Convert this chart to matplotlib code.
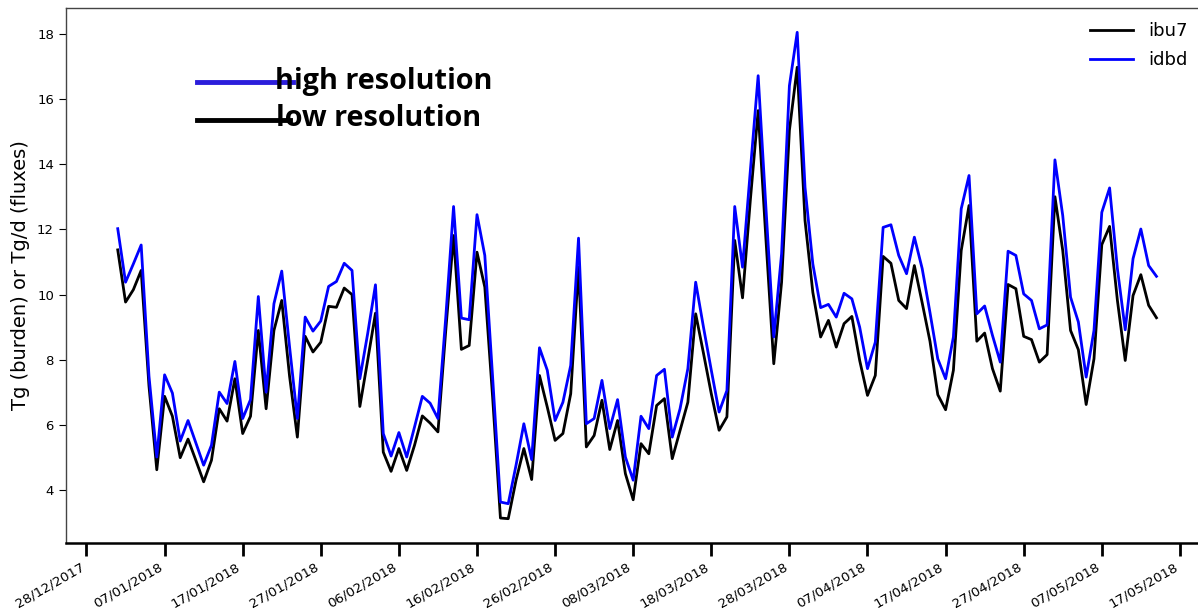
import matplotlib
matplotlib.use("Agg")
import matplotlib.pyplot as plt
import matplotlib.dates as mdates
from matplotlib.lines import Line2D
import pandas as pd

start_date = "2018-01-01"
n_days = 134

ibu7 = [11.37, 9.77, 10.15, 10.74, 7.2, 4.63, 6.88, 6.27, 5.00, 5.57,
        4.92, 4.26, 4.92, 6.50, 6.12, 7.42, 5.74, 6.27, 8.90, 6.50,
        8.90, 9.82, 7.5, 5.63, 8.72, 8.24, 8.54, 9.64, 9.61, 10.20,
        10.00, 6.57, 7.98, 9.43, 5.17, 4.58, 5.28, 4.61, 5.38, 6.28,
        6.06, 5.79, 8.9, 11.81, 8.32, 8.44, 11.30, 10.23, 6.86, 3.15,
        3.13, 4.31, 5.28, 4.33, 7.52, 6.55, 5.53, 5.74, 6.96, 10.84,
        5.33, 5.68, 6.76, 5.25, 6.14, 4.51, 3.71, 5.43, 5.12, 6.60,
        6.81, 4.97, 5.84, 6.70, 9.41, 8.2, 6.96, 5.84, 6.25, 11.66,
        9.90, 12.9, 15.64, 11.68, 7.88, 10.38, 15.03, 16.97, 12.27, 10.07,
        8.70, 9.21, 8.39, 9.11, 9.33, 7.98, 6.91, 7.52, 11.17, 10.96,
        9.82, 9.57, 10.89, 9.75, 8.57, 6.93, 6.47, 7.68, 11.35, 12.73,
        8.57, 8.82, 7.73, 7.04, 10.31, 10.18, 8.72, 8.62, 7.93, 8.16,
        13.00, 11.35, 8.90, 8.31, 6.63, 8.03, 11.53, 12.09, 9.82, 7.98,
        9.97, 10.61, 9.67, 9.29]

idbd = [12.02, 10.38, 10.94, 11.52, 7.5, 5.02, 7.54, 6.98, 5.51, 6.14,
        5.45, 4.77, 5.38, 7.01, 6.66, 7.95, 6.20, 6.78, 9.94, 7.01,
        9.72, 10.72, 8.4, 6.20, 9.31, 8.88, 9.19, 10.25, 10.40, 10.96,
        10.74, 7.42, 8.8, 10.30, 5.74, 5.05, 5.77, 5.02, 5.94, 6.88,
        6.67, 6.20, 9.3, 12.70, 9.28, 9.23, 12.45, 11.20, 7.47, 3.64,
        3.59, 4.77, 6.04, 4.94, 8.37, 7.68, 6.14, 6.70, 7.83, 11.73,
        6.04, 6.20, 7.37, 5.89, 6.78, 5.02, 4.31, 6.27, 5.89, 7.52,
        7.71, 5.63, 6.50, 7.73, 10.38, 9.0, 7.68, 6.40, 7.06, 12.70,
        10.84, 13.8, 16.71, 12.64, 8.70, 11.25, 16.40, 18.04, 13.29, 10.94,
        9.60, 9.70, 9.31, 10.04, 9.87, 9.00, 7.73, 8.54, 12.06, 12.14,
        11.20, 10.64, 11.76, 10.8, 9.45, 8.03, 7.42, 8.70, 12.63, 13.65,
        9.41, 9.65, 8.75, 7.93, 11.33, 11.20, 10.02, 9.82, 8.95, 9.07,
        14.13, 12.42, 9.92, 9.16, 7.47, 8.90, 12.52, 13.27, 10.79, 8.92,
        11.10, 12.01, 10.89, 10.56]

tick_start = "2017-12-28"
n_ticks = 15
ylabel = "Tg (burden) or Tg/d (fluxes)"
note_high = "high resolution"
note_low = "low resolution"

dates = pd.date_range(start_date, periods=n_days, freq="D")
ticks = pd.date_range(tick_start, periods=n_ticks, freq="10D")

W, H = 1198, 610
fig = plt.figure(figsize=(W / 100, H / 100), dpi=100)
ax = fig.add_axes([65.8 / W, (H - 543) / H, (1208.4 - 65.8) / W, (543 - 8) / H])

ax.plot(dates, ibu7, color="black", lw=2.0, label="ibu7")
ax.plot(dates, idbd, color="#0000ff", lw=2.0, label="idbd")

ax.set_xticks(ticks)
ax.xaxis.set_major_formatter(mdates.DateFormatter("%d/%m/%Y"))
for lab in ax.get_xticklabels():
    lab.set_rotation(30)
    lab.set_ha("right")
    lab.set_fontsize(9.7)
ax.tick_params(axis="x", length=9, width=2, color="black")
ax.tick_params(axis="y", labelsize=9.5, length=5)
ax.set_yticks([4, 6, 8, 10, 12, 14, 16, 18])
ax.set_ylabel(ylabel, fontsize=14)
ax.yaxis.set_label_coords(-0.031, 0.5)

for s in ["left", "top"]:
    ax.spines[s].set_color("#444444")
    ax.spines[s].set_linewidth(1.0)
ax.spines["bottom"].set_linewidth(1.8)
ax.spines["bottom"].set_color("black")

leg = ax.legend(loc="upper left", bbox_to_anchor=(1090 / W, 1 - 22 / H),
                bbox_transform=fig.transFigure, frameon=False, fontsize=13,
                handlelength=2.4, handletextpad=0.8, borderpad=0, borderaxespad=0,
                labelspacing=0.6)

# overlay annotation
fig.add_artist(Line2D([197 / W, 293 / W], [1 - 82 / H, 1 - 82 / H],
                      transform=fig.transFigure, color="#2b1ddb", lw=3.5, zorder=1))
fig.add_artist(Line2D([197 / W, 290 / W], [1 - 120 / H, 1 - 120 / H],
                      transform=fig.transFigure, color="black", lw=3.5, zorder=1))
fig.text(275 / W, 1 - 81 / H, note_high, fontsize=20.8, fontweight="bold",
         family=["Open Sans", "DejaVu Sans"], va="center", ha="left", zorder=2)
fig.text(276 / W, 1 - 119 / H, note_low, fontsize=20.8, fontweight="bold",
         family=["Open Sans", "DejaVu Sans"], va="center", ha="left", zorder=2)

fig.savefig("out.png", dpi=100)
